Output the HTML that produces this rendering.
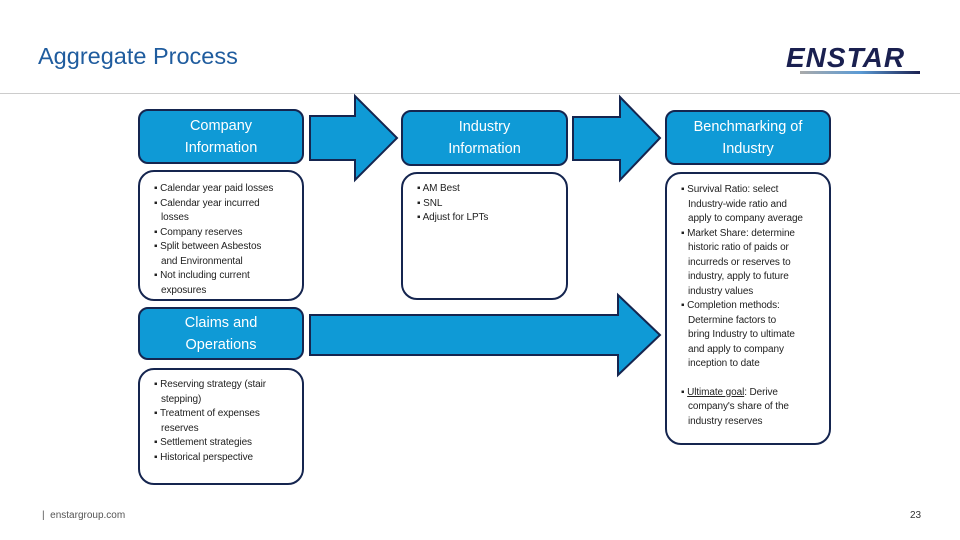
<!DOCTYPE html>
<html><head><meta charset="utf-8"><style>
body{margin:0;width:960px;height:540px;background:#fff;position:relative;overflow:hidden;font-family:"Liberation Sans",sans-serif}
.t{position:absolute}
.hd{position:absolute;background:#0f9ad6;border:2px solid #15254f;border-radius:10px;box-sizing:border-box;color:#fff;font-size:14.5px;line-height:22px;text-align:center;display:flex;align-items:center;justify-content:center}
.bx{position:absolute;border:2px solid #15254f;border-radius:16px;box-sizing:border-box;background:#fff;font-size:10px;line-height:14.5px;color:#222;padding:10px 0 0 14px;letter-spacing:-0.1px;white-space:nowrap}
.bx div{padding-left:7px;text-indent:-7px}
</style></head><body>
<div class="t" style="left:38px;top:43px;font-size:23.5px;color:#1f5c9e">Aggregate Process</div>
<div class="t" style="left:786px;top:42px;font-size:28px;font-weight:bold;font-style:italic;color:#1a2050;letter-spacing:1px">ENSTAR</div>
<div class="t" style="left:800px;top:71px;width:120px;height:3px;background:linear-gradient(90deg,#aaa,#5b9bd5,#1a2050)"></div>
<div class="t" style="left:0;top:93px;width:960px;height:1px;background:#ccc"></div>
<svg class="t" style="left:0;top:0" width="960" height="540">
<g fill="#0f9ad6" stroke="#15254f" stroke-width="2">
<polygon points="310,116 355,116 355,96 397,138 355,180 355,160 310,160"/>
<polygon points="573,117 620,117 620,97 660,138 620,180 620,160 573,160"/>
<polygon points="310,315 618,315 618,295 660,335 618,375 618,355 310,355"/>
</g></svg>
<div class="hd" style="left:138px;top:109px;width:166px;height:55px">Company<br>Information</div>
<div class="hd" style="left:401px;top:110px;width:167px;height:56px">Industry<br>Information</div>
<div class="hd" style="left:665px;top:110px;width:166px;height:55px">Benchmarking of<br>Industry</div>
<div class="hd" style="left:138px;top:307px;width:166px;height:53px">Claims and<br>Operations</div>
<div class="bx" style="left:138px;top:170px;width:166px;height:131px;padding-top:10px">
<div>▪ Calendar year paid losses</div><div>▪ Calendar year incurred<br>losses</div><div>▪ Company reserves</div><div>▪ Split between Asbestos<br>and Environmental</div><div>▪ Not including current<br>exposures</div></div>
<div class="bx" style="left:401px;top:172px;width:167px;height:128px;padding-top:8px">
<div>▪ AM Best</div><div>▪ SNL</div><div>▪ Adjust for LPTs</div></div>
<div class="bx" style="left:665px;top:172px;width:166px;height:273px;padding-top:9px">
<div>▪ Survival Ratio: select<br>Industry-wide ratio and<br>apply to company average</div><div>▪ Market Share: determine<br>historic ratio of paids or<br>incurreds or reserves to<br>industry, apply to future<br>industry values</div><div>▪ Completion methods:<br>Determine factors to<br>bring Industry to ultimate<br>and apply to company<br>inception to date</div><div style="margin-top:14px">▪ <u>Ultimate goal</u>: Derive<br>company's share of the<br>industry reserves</div></div>
<div class="bx" style="left:138px;top:368px;width:166px;height:117px;padding-top:8px">
<div>▪ Reserving strategy (stair<br>stepping)</div><div>▪ Treatment of expenses<br>reserves</div><div>▪ Settlement strategies</div><div>▪ Historical perspective</div></div>
<div class="t" style="left:42px;top:510px;font-size:10px;color:#555">|&nbsp; enstargroup.com</div>
<div class="t" style="left:910px;top:510px;font-size:10px;color:#333">23</div>
</body></html>
